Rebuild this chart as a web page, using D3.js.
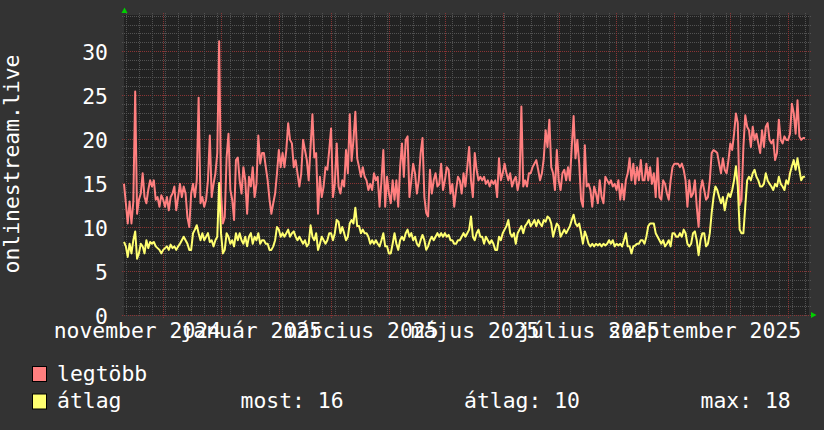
<!DOCTYPE html>
<html><head><meta charset="utf-8">
<script src="https://cdn.jsdelivr.net/npm/d3@7"></script>
<style>html,body{margin:0;padding:0;background:#333333;}svg{display:block;}</style>
</head><body>
<svg id="chart" width="824" height="430"></svg>
<script>
// ---- data (one value per day, starting 2024-11-10) ----
const firstDay = "2024-11-10";
const seriesNames = ["legtöbb", "átlag"];
const legtobb = [
14.9,12.7,10.4,12.9,10.4,12.9,25.4,11.5,13.1,13.8,
16.1,13.4,12.7,14.2,15.3,14.6,15.3,13.1,13.4,12.3,
13.6,13.1,12.3,13.4,11.9,13.4,13.8,14.6,11.9,13.4,
14.9,13.4,14.6,13.8,11.1,10.0,13.8,14.9,13.4,15.3,
24.7,12.7,13.4,12.3,13.1,15.3,20.4,13.4,14.9,16.1,
18.4,31.1,13.8,10.4,11.1,17.9,20.6,14.2,13.1,10.8,
17.6,17.9,15.3,13.8,16.8,15.3,11.5,15.7,14.6,16.8,
13.4,14.9,20.4,17.2,18.4,18.4,16.8,15.3,13.1,11.5,
12.7,13.8,16.1,18.75,16.8,18.4,16.8,18.75,21.8,19.9,
19.5,16.8,17.6,16.1,14.6,16.1,19.9,18.75,17.6,15.3,
19.1,22.8,17.9,18.4,11.5,15.7,13.4,14.6,16.8,16.5,
18.75,21.2,13.4,14.9,19.5,14.6,13.8,15.3,14.6,18.75,
16.1,22.8,17.5,19.9,23.1,17.8,16.8,15.7,16.8,15.7,
15.3,14.2,14.9,14.2,16.1,15.3,15.7,12.3,15.3,18.75,
12.3,15.7,13.8,12.7,15.3,13.1,15.3,12.3,16.8,19.5,
15.7,19.9,20.3,13.4,15.3,17.2,16.1,13.8,15.3,18.4,
20.1,13.4,11.6,11.2,16.5,13.8,15.3,16.1,14.6,14.9,
17.2,14.2,15.3,16.8,16.5,13.8,14.9,12.3,14.2,15.7,
15.3,13.8,16.1,14.6,16.8,19.1,15.3,13.4,18.4,16.5,
15.3,15.7,15.3,15.7,14.9,15.3,14.6,15.3,14.9,15.3,
13.4,17.8,15.3,16.1,17.2,16.1,15.3,16.1,14.6,15.3,
15.7,14.2,15.3,23.7,14.6,15.3,14.6,16.1,16.1,16.8,
17.2,17.6,16.5,15.3,16.1,17.8,21.0,19.1,22.2,16.8,
16.1,14.2,18.75,15.3,14.2,16.1,16.5,15.3,16.8,15.3,
19.1,22.6,17.8,19.9,17.2,13.1,12.3,19.3,14.6,14.9,
14.2,12.3,14.6,13.8,12.7,15.3,13.4,12.7,15.7,15.3,
14.9,15.3,14.6,14.9,14.2,15.3,13.1,14.9,13.1,15.3,
16.1,17.8,15.3,17.2,14.9,16.8,15.3,17.6,15.3,15.3,
17.2,15.3,16.8,14.9,16.1,13.4,17.8,13.4,13.1,15.3,
14.9,13.8,13.1,15.3,16.8,17.2,17.2,17.2,16.8,17.2,
16.5,15.3,12.3,15.3,13.4,13.8,15.3,12.3,10.0,14.2,
15.3,14.2,13.1,13.4,15.3,18.4,18.75,18.6,18.4,17.2,
16.1,17.8,16.5,16.1,17.6,19.5,18.75,20.6,22.9,21.8,
12.5,13.1,19.1,22.7,21.4,21.0,19.1,21.4,19.9,20.6,
19.5,18.4,21.0,19.1,21.4,21.8,19.9,19.5,19.9,17.6,
18.4,22.2,19.9,19.5,20.3,19.9,19.9,20.6,24.0,22.9,
20.6,24.4,20.3,19.9,20.1,20.1
];
const atlag = [
8.3,7.8,6.6,8.1,7.0,8.5,9.5,6.4,7.0,8.1,
7.8,7.0,8.5,7.6,8.3,8.1,8.3,7.8,7.6,7.4,
7.0,7.4,7.6,7.8,7.4,8.0,7.6,7.8,7.4,7.8,
8.1,8.5,8.9,8.5,8.1,7.4,7.4,9.3,9.7,10.2,
9.3,8.5,9.3,8.5,8.9,9.3,8.3,8.5,7.8,8.5,
8.9,15.0,9.3,7.0,7.4,9.3,8.9,8.1,8.5,7.8,
9.3,8.5,9.3,8.5,8.1,8.9,7.8,8.9,9.3,8.1,
8.9,8.5,9.3,8.1,8.5,8.5,8.1,8.1,7.4,7.4,
7.8,8.5,10.0,9.7,8.9,9.3,8.9,9.3,9.7,8.9,
9.3,9.5,8.9,8.5,8.9,8.5,8.1,8.5,7.8,8.1,
10.2,8.9,8.5,9.3,7.4,8.1,8.9,8.5,8.1,8.5,
9.3,9.3,8.5,9.3,10.8,10.6,9.3,10.0,9.3,8.5,
8.9,10.4,10.8,10.4,12.2,10.1,10.1,9.3,9.7,9.3,
9.3,8.9,8.1,8.5,8.1,8.5,8.1,7.8,8.5,9.3,
7.8,7.8,7.0,7.0,8.1,9.3,8.1,7.4,8.5,8.9,
8.5,9.3,9.7,8.9,9.3,8.5,8.9,8.1,7.8,8.5,
9.1,8.5,7.4,7.8,8.5,8.9,8.5,8.9,9.3,8.9,
9.3,8.9,9.3,8.9,9.1,8.5,8.5,8.1,8.1,8.5,
8.5,8.9,9.3,8.9,9.3,9.7,11.2,8.9,8.5,9.3,
9.7,8.9,8.9,8.1,8.9,8.5,8.1,8.5,8.1,7.4,
7.4,8.9,8.5,9.3,9.7,10.1,10.8,9.3,8.9,9.3,
8.1,9.3,9.7,10.1,9.3,10.1,10.4,10.8,10.1,10.4,
10.8,10.1,10.8,10.4,10.1,10.8,10.6,11.2,11.0,10.4,
8.9,9.7,10.4,10.1,8.9,9.3,9.7,9.3,9.7,10.1,
10.8,11.4,10.4,10.1,10.4,9.3,8.1,9.5,8.9,8.1,
7.8,8.1,7.8,8.1,7.9,8.1,7.8,8.1,7.9,8.1,
8.5,8.1,8.5,7.8,8.1,7.9,8.1,7.8,8.5,9.3,
7.8,7.8,7.0,7.8,7.9,8.1,8.1,8.5,8.5,8.1,
8.9,10.1,10.4,10.4,10.4,9.3,8.9,8.5,8.1,8.5,
7.8,8.1,8.5,7.8,9.3,9.3,8.9,8.9,9.3,8.9,
9.7,9.3,8.1,7.8,8.1,9.3,9.5,8.5,6.8,8.5,
9.3,9.3,7.8,8.1,9.3,11.6,13.4,14.6,14.2,13.4,
12.7,13.4,11.9,13.1,13.8,13.4,14.2,15.3,16.9,14.6,
9.7,9.3,9.3,12.3,15.3,15.7,15.3,16.1,16.5,15.7,
15.3,14.6,14.6,14.9,16.1,15.3,14.9,14.6,14.2,14.9,
14.6,15.7,14.9,14.6,14.2,15.3,14.9,16.1,16.9,17.6,
16.5,17.8,16.5,15.3,15.7,15.7
];
const yTicks = [0, 5, 10, 15, 20, 25, 30];
const xLabelMonths = ["2024-11", "2025-01", "2025-03", "2025-05", "2025-07", "2025-09"];
const monthNames = ["január","február","március","április","május","június","július","augusztus","szeptember","október","november","december"];
const legendStats = ["most: 16", "átlag: 10", "max: 18"];
const yTitle = "onlinestream.live";

// ---- layout ----
const L = 124, R = 809, T = 15, B = 315;
const svg = d3.select("#chart");
const font = "'DejaVu Sans Mono', monospace";
const fs = 21.4;
const colRed = "#ff7f7f", colYel = "#ffff70";

const t0 = d3.utcHour.offset(new Date(firstDay + "T00:00:00Z"), 2);
const dayDate = i => d3.utcDay.offset(t0, i);
const x = d3.scaleUtc().domain([t0, d3.utcHour.offset(t0, Math.round(367.15 * 24))]).range([L, R]);
const y = d3.scaleLinear().domain([0, 34.09]).range([B, T]);

svg.append("rect").attr("width", 824).attr("height", 430).attr("fill", "#333333");
svg.append("rect").attr("x", L).attr("y", T).attr("width", R - L).attr("height", B - T).attr("fill", "#222222");

const grid = svg.append("g").attr("shape-rendering", "crispEdges");
const px = v => Math.round(v) + 0.5;
d3.range(0, 35).forEach(v => {
  const major = v % 5 === 0;
  grid.append("line").attr("x1", L - 2).attr("x2", R + 2)
    .attr("y1", px(y(v))).attr("y2", px(y(v)))
    .attr("stroke", major ? "#8a3434" : "#525252").attr("stroke-dasharray", "1,1");
});
d3.utcMonday.range(t0, x.domain()[1]).forEach(d => {
  grid.append("line").attr("y1", T - 2).attr("y2", B + 2)
    .attr("x1", px(x(d))).attr("x2", px(x(d)))
    .attr("stroke", "#525252").attr("stroke-dasharray", "1,1");
});
d3.utcMonth.range(t0, x.domain()[1]).forEach(d => {
  grid.append("line").attr("y1", T - 2).attr("y2", B + 3)
    .attr("x1", px(x(d))).attr("x2", px(x(d)))
    .attr("stroke", "#8a3434").attr("stroke-dasharray", "1,1");
});

// lines
const mk = arr => arr.map((v, i) => ({ d: dayDate(i), v }));
const line = d3.line().x(p => x(p.d)).y(p => y(p.v)).curve(d3.curveLinear);
svg.append("path").datum(mk(legtobb)).attr("d", line).attr("fill", "none")
  .attr("stroke", colRed).attr("stroke-width", 2).attr("stroke-linejoin", "round");
svg.append("path").datum(mk(atlag)).attr("d", line).attr("fill", "none")
  .attr("stroke", colYel).attr("stroke-width", 2).attr("stroke-linejoin", "round");

// arrows
svg.append("path").attr("d", "M121.5,13 L127.5,13 L124.5,7.5 Z").attr("fill", "#00d000");
svg.append("path").attr("d", "M811,312 L811,318 L816.5,315 Z").attr("fill", "#00d000");

// y axis labels
const yAxis = svg.append("g").attr("transform", `translate(${L},0)`)
  .call(d3.axisLeft(y).tickValues(yTicks).tickSize(0).tickPadding(16).tickFormat(d3.format("d")));
yAxis.select(".domain").remove();
yAxis.selectAll("text").attr("fill", "#ffffff").attr("font-family", font).attr("font-size", fs).attr("dy", "0.4em");

// x axis labels (mid-month)
const labelDates = xLabelMonths.map(s => d3.utcDay.offset(new Date(s + "-01T00:00:00Z"), 16));
const xAxis = svg.append("g").attr("transform", `translate(0,${B})`)
  .call(d3.axisBottom(x).tickValues(labelDates).tickSize(0).tickPadding(8)
    .tickFormat(d => monthNames[d.getUTCMonth()] + " " + d.getUTCFullYear()));
xAxis.select(".domain").remove();
xAxis.selectAll("text").attr("fill", "#ffffff").attr("font-family", font).attr("font-size", fs);

// y title
svg.append("text").attr("transform", "translate(19,164) rotate(-90)")
  .attr("text-anchor", "middle").attr("fill", "#ffffff").attr("font-family", font).attr("font-size", fs)
  .text(yTitle);

// legend
const lg = svg.append("g");
[[colRed, seriesNames[0], 366, 381], [colYel, seriesNames[1], 393.5, 408]].forEach(([c, name, ry, by]) => {
  lg.append("rect").attr("x", 32.5).attr("y", ry + 0.5).attr("width", 14).attr("height", 15)
    .attr("fill", c).attr("stroke", "#000").attr("stroke-width", 1);
  lg.append("text").attr("x", 57).attr("y", by)
    .attr("fill", "#fff").attr("font-family", font).attr("font-size", fs).text(name);
});
[[240.5, legendStats[0]], [464, legendStats[1]], [700.5, legendStats[2]]].forEach(([lx, s]) => {
  lg.append("text").attr("x", lx).attr("y", 408)
    .attr("fill", "#fff").attr("font-family", font).attr("font-size", fs).text(s);
});
</script>
</body></html>
